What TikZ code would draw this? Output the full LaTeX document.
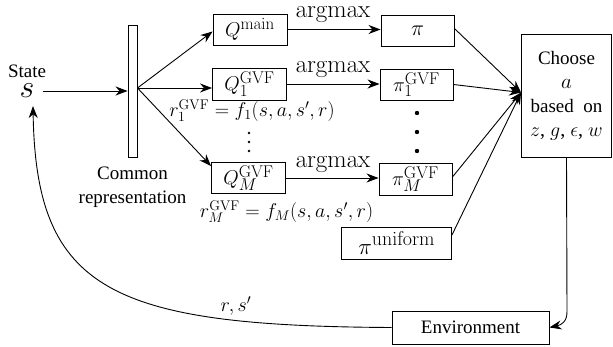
\RequirePackage{fix-cm}
\documentclass[tikz,border=0pt]{standalone}
\usepackage[no-math]{fontspec}
\setmainfont{Liberation Serif}
\usetikzlibrary{arrows.meta,calc}
\newcommand\upl[1]{\mbox{\fontsize{17}{17}\selectfont$\mathrm{#1}$}}
\newcommand\lowl[1]{\mbox{\fontsize{17}{17}\selectfont$#1$}}
\begin{document}
\begin{tikzpicture}[x=1pt,y=-1pt,
  every node/.style={font=\fontsize{19}{24}\selectfont, inner sep=2pt},
  box/.style={draw, line width=0.9pt, inner sep=0pt, minimum height=31pt},
  arr/.style={line width=0.9pt, -{Stealth[length=12pt,width=9pt]}},
  mth/.style={font=\fontsize{20}{24}\selectfont},
  big/.style={font=\fontsize{25}{28}\selectfont}]
\useasboundingbox (0,0) rectangle (613,347);

% state
\node (statelbl) at (27,71) {State};
\node[font=\fontsize{32}{32}\selectfont, inner sep=3pt] (s) at (27,91) {$s$};

% common representation bar
\node[draw, line width=0.9pt, minimum width=9pt, minimum height=132pt, inner sep=0pt] (bar) at (132.5,91) {};
\node[align=center] (common) at (132.5,187) {Common\\representation};
\coordinate (hub) at (137.5,88);

% Q boxes
\node[box, mth, minimum width=74pt] (Qm) at (250,29.5) {$Q^{\upl{main}}$};
\node[box, mth, minimum width=74pt, minimum height=32pt] (Q1) at (249.5,84) {$Q^{\upl{GVF}}_{\lowl{1}}$};
\node[box, mth, minimum width=74pt] (QM) at (248.5,178) {$Q^{\upl{GVF}}_{\lowl{M}}$};

% pi boxes
\node[box, font=\fontsize{22}{24}\selectfont, minimum width=73pt] (pi) at (417.5,30.5) {$\pi$};
\node[box, mth, minimum width=73pt] (pi1) at (416.5,84.5) {$\pi^{\upl{GVF}}_{\lowl{1}}$};
\node[box, mth, minimum width=73pt, minimum height=32pt] (piM) at (415.5,179) {$\pi^{\upl{GVF}}_{\lowl{M}}$};
\node[box, minimum width=110pt, minimum height=32pt] (piu) at (396.5,243)
  {{\fontsize{23}{23}\selectfont$\pi$}\raisebox{9pt}{\fontsize{20}{20}\selectfont$\mathrm{uniform}$}};

% choose and environment
\node[box, minimum width=90pt, minimum height=123pt, align=center] (choose) at (566.5,95.5)
  {Choose\\{\fontsize{21}{24}\selectfont$a$}\\based\ \ on\\{\fontsize{20}{24}\selectfont$z$, $g$, $\epsilon$, $w$}};
\node[box, minimum width=157pt, minimum height=33pt] (env) at (470.5,327.5) {Environment};

% argmax labels
\node[big, anchor=base] (am1) at (333,18) {$\mathrm{argmax}$};
\node[big, anchor=base] (am2) at (333,73) {$\mathrm{argmax}$};
\node[big, anchor=base] (am3) at (333,168) {$\mathrm{argmax}$};

% reward labels
\node[mth, anchor=base] (r1) at (252,117) {$r_1^{\mathrm{GVF}} = f_1(s,a,s',r)$};
\node[mth, anchor=base] (rM) at (286.5,218) {$r_M^{\mathrm{GVF}} = f_M(s,a,s',r)$};
\node[mth] (rs) at (236,306) {$r, s'$};

% dots
\fill (249,133) circle[radius=1.4pt];
\fill (249,142) circle[radius=1.4pt];
\fill (249,151) circle[radius=1.4pt];
\fill (417,113) circle[radius=2.2pt];
\fill (417,132) circle[radius=2.2pt];
\fill (417,151) circle[radius=2.2pt];

% arrows
\draw[arr, shorten <=5pt] (s.east) -- (bar.west |- s.east);
\draw[arr] (hub) -- ($(Qm.west)+(0,2)$);
\draw[arr] (hub) -- (Q1.west |- hub);
\draw[arr] (hub) -- ($(QM.north west)+(0,4)$);
\draw[arr] (Qm.east) -- (pi.west |- Qm.east);
\draw[arr] (Q1.east) -- (pi1.west |- Q1.east);
\draw[arr] (QM.east) -- (piM.west |- QM.east);

\coordinate (cin) at ($(choose.west)+(0,-3)$);
\draw[arr] ($(pi.east)+(0,-2)$) -- (cin);
\draw[arr] (pi1.east) -- (cin);
\draw[arr] ($(piM.east)+(0,-2)$) -- (cin);
\draw[arr] ($(piu.east)+(0,-8)$) -- (cin);

\draw[arr] (choose.south) -- (567,312) .. controls (567,322) and (561,325) .. (env.east);
\coordinate (sin) at ($(s.south)+(6,5)$);
\draw[arr] (env.west) .. controls (110,326) and (36,290) .. (sin);
\end{tikzpicture}
\end{document}
